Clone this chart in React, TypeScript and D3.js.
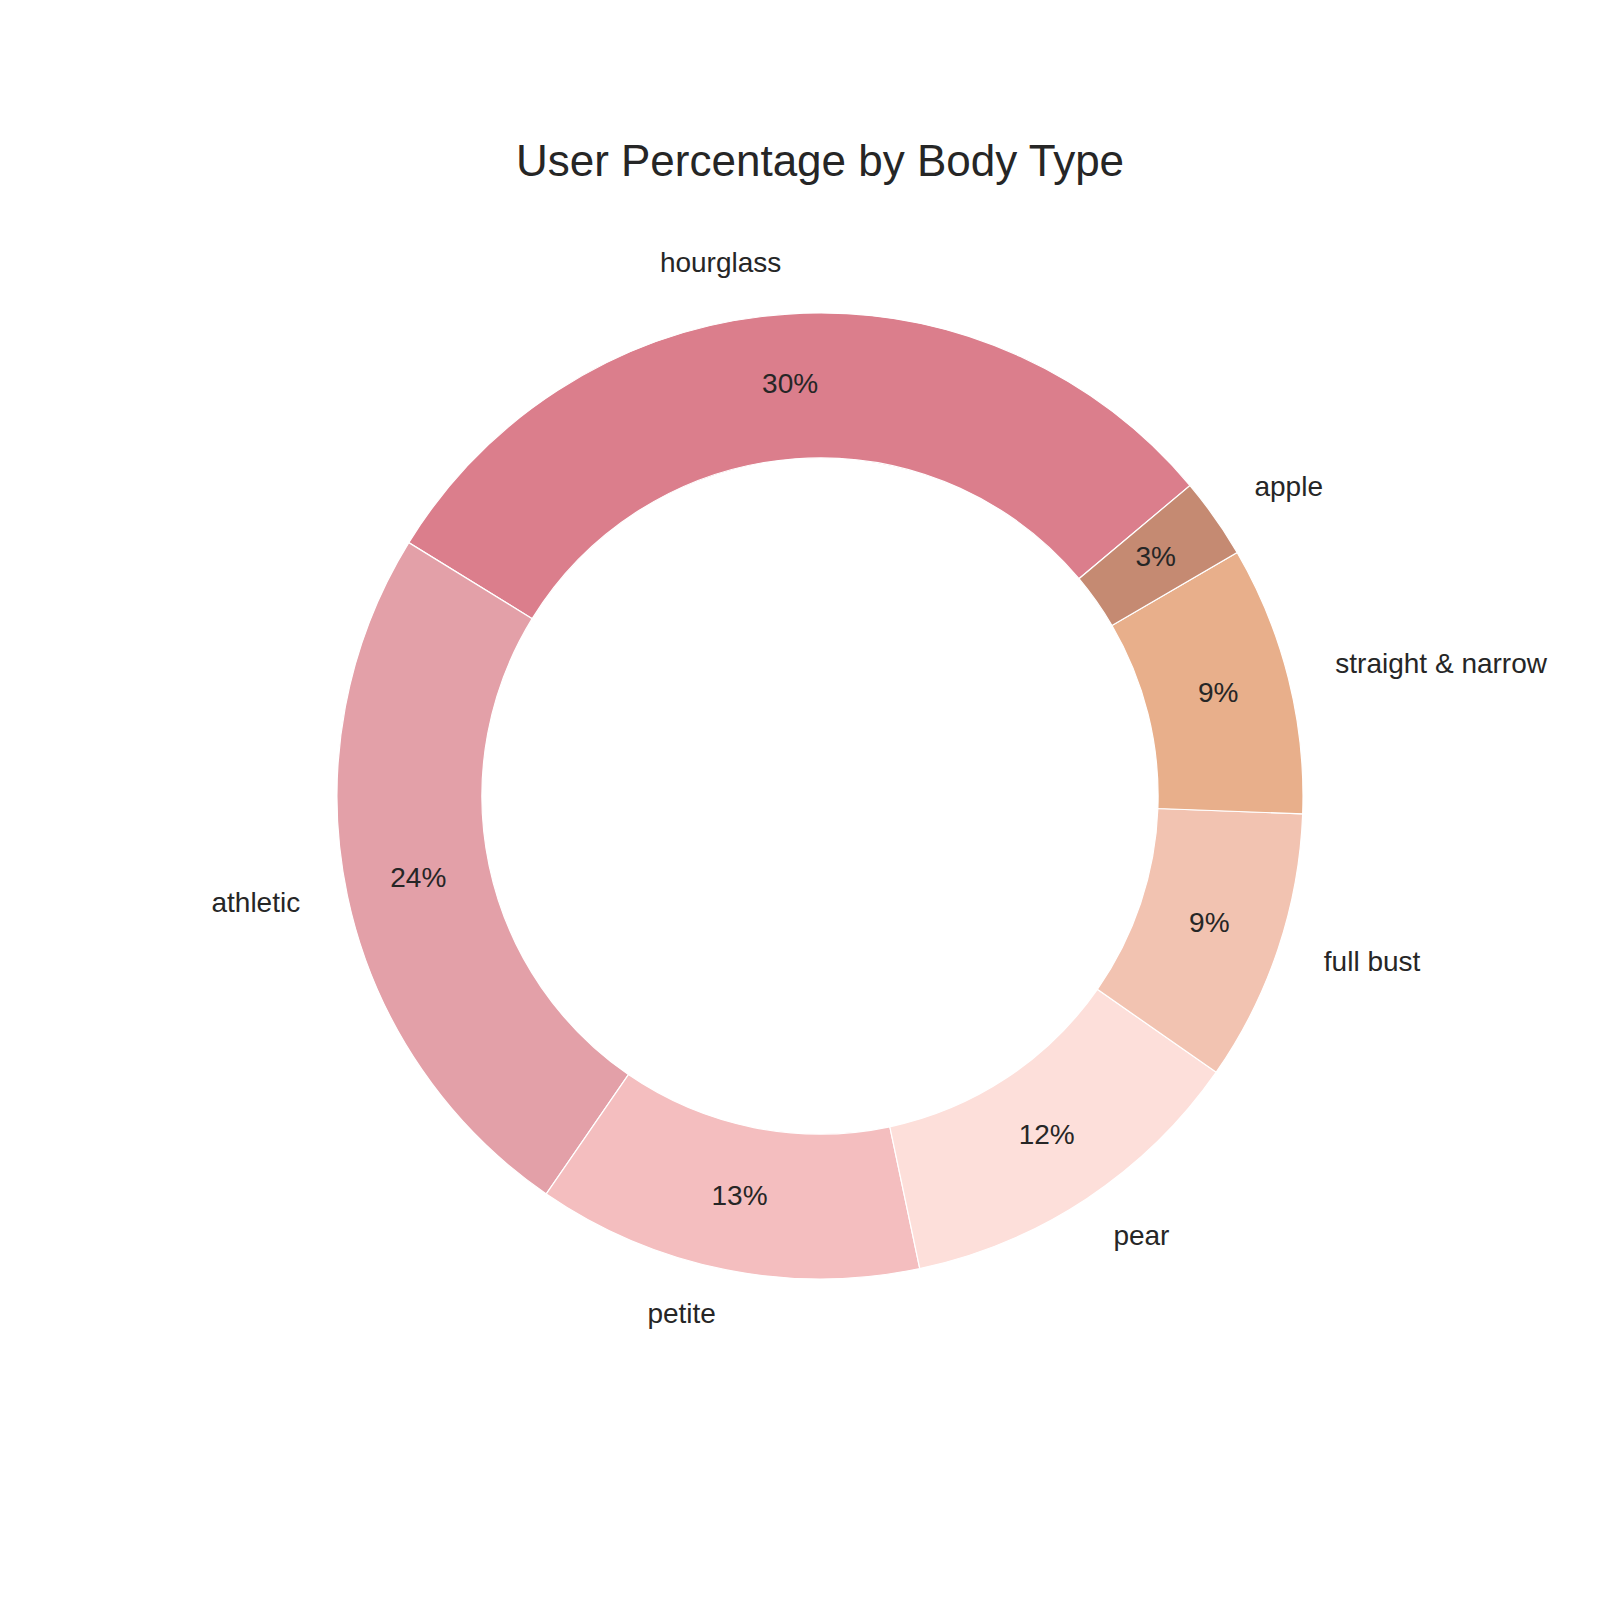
import React from "react";
import * as d3 from "d3";

// body types, in the order they are drawn (counter-clockwise from 40°)
const bodyTypes = ["hourglass", "athletic", "petite", "pear", "full bust", "straight & narrow", "apple"];
const userShare = [30.1, 24.2, 12.9, 12.0, 9.1, 9.0, 2.7];
const sliceColors = ["#db7e8c", "#e3a0a8", "#f4bebf", "#fddfda", "#f2c3b1", "#e8af8b", "#c58a72"];

const W = 1600;
const H = 1600;
const cx = 820;
const cy = 796;
const outerR = 483;
const innerR = outerR * 0.7;
const startDeg = 40;
const textColor = "#262626";
const font = "'Liberation Sans', Arial, sans-serif";

export default function App() {
  const total = d3.sum(userShare);
  // matplotlib angles: 0 = east, counter-clockwise positive
  const angle = d3.scaleLinear().domain([0, total]).range([startDeg, startDeg + 360]);

  const arcGen = d3.arc<any>().innerRadius(innerR).outerRadius(outerR);

  let acc = 0;
  const slices = userShare.map((v, i) => {
    const a0 = angle(acc);
    acc += v;
    const a1 = angle(acc);
    // convert to d3 angles: 0 = north, clockwise
    const toD3 = (deg: number) => ((90 - deg) * Math.PI) / 180;
    const mid = ((a0 + a1) / 2) * (Math.PI / 180);
    return {
      name: bodyTypes[i],
      value: v,
      color: sliceColors[i],
      path: arcGen({ startAngle: toD3(a1), endAngle: toD3(a0) }) as string,
      mid,
    };
  });

  return (
    <svg
      width={W}
      height={H}
      style={{ display: "block", background: "#fff", position: "absolute", left: 0, top: 0 }}
    >
      <text
        x={cx}
        y={176}
        textAnchor="middle"
        fontFamily={font}
        fontSize={44}
        fill={textColor}
      >
        User Percentage by Body Type
      </text>
      <g transform={`translate(${cx},${cy})`}>
        {slices.map((s) => (
          <path key={s.name} d={s.path} fill={s.color} stroke="#fff" strokeWidth={1.2} />
        ))}
        {slices.map((s) => {
          const lx = Math.cos(s.mid) * outerR * 1.1;
          const ly = -Math.sin(s.mid) * outerR * 1.1;
          const px = Math.cos(s.mid) * outerR * 0.85;
          const py = -Math.sin(s.mid) * outerR * 0.85;
          return (
            <g key={s.name + "-t"} fontFamily={font} fontSize={28} fill={textColor}>
              <text x={lx} y={ly} dy="0.22em" textAnchor={lx < 0 ? "end" : "start"}>
                {s.name}
              </text>
              <text x={px} y={py} dy="0.22em" textAnchor="middle">
                {`${Math.round(s.value)}%`}
              </text>
            </g>
          );
        })}
      </g>
    </svg>
  );
}
